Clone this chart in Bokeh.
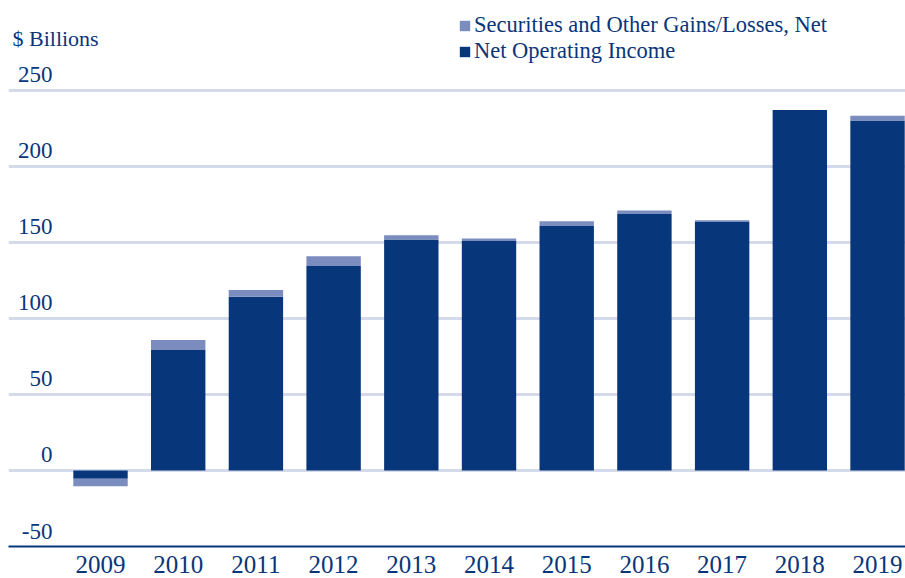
from bokeh.plotting import figure
from bokeh.models import (Range1d, FixedTicker, Label, LabelSet, ColumnDataSource,
                          Legend, LegendItem)
from bokeh.embed import file_html
from bokeh.resources import INLINE

# Annual values, $ billions
years = [2009, 2010, 2011, 2012, 2013, 2014, 2015, 2016, 2017, 2018, 2019]
net_operating_income = [-5.5, 79.3, 114.3, 134.6, 152.0, 151.0, 160.9, 168.7, 163.5, 237.2, 230.2]
securities_gains = [-4.8, 6.6, 4.4, 6.3, 2.8, 1.6, 3.0, 2.3, 1.1, 0.0, 3.2]
y_ticks = [-50, 0, 50, 100, 150, 200, 250]

DARK = "#08367A"
LIGHT = "#7B8CBF"
GRID = "#D5DAEB"
FONT = "Liberation Serif"

idx = list(range(len(years)))
noi_src = ColumnDataSource(dict(
    x=idx,
    bottom=[0.0] * len(years),
    top=net_operating_income,
))
sec_src = ColumnDataSource(dict(
    x=idx,
    bottom=net_operating_income,
    top=[n + s for n, s in zip(net_operating_income, securities_gains)],
))

p = figure(width=905, height=578, output_backend="svg", toolbar_location=None,
           x_range=Range1d(-1.184, 10.36), y_range=Range1d(-50, 309.2),
           min_border_left=8, min_border_right=0, min_border_top=0, min_border_bottom=32)
p.outline_line_color = None
p.background_fill_color = "white"

r_noi = p.vbar(x="x", bottom="bottom", top="top", width=0.7, source=noi_src,
               fill_color=DARK, line_color=None)
r_sec = p.vbar(x="x", bottom="bottom", top="top", width=0.7, source=sec_src,
               fill_color=LIGHT, line_color=None)

# horizontal grid
p.xgrid.visible = False
p.ygrid.ticker = FixedTicker(ticks=[t for t in y_ticks if t > -50])
p.ygrid.grid_line_color = GRID
p.ygrid.grid_line_width = 3
p.ygrid.level = "underlay"
p.yaxis.visible = False

# year axis along the bottom
p.xaxis.ticker = FixedTicker(ticks=idx)
p.xaxis.major_label_overrides = {i: str(y) for i, y in zip(idx, years)}
p.xaxis.major_tick_line_color = None
p.xaxis.minor_tick_line_color = None
p.xaxis.axis_line_color = DARK
p.xaxis.axis_line_width = 2
p.xaxis.major_label_text_font = FONT
p.xaxis.major_label_text_font_size = "25px"
p.xaxis.major_label_text_color = DARK
p.xaxis.major_label_standoff = 3

# value labels sitting on top of each grid line
lab_src = ColumnDataSource(dict(y=y_ticks, text=[str(t) for t in y_ticks]))
p.add_layout(LabelSet(x=44, y="y", text="text", source=lab_src, x_units="screen",
                      text_align="right", text_baseline="bottom", y_offset=8,
                      text_font=FONT, text_font_size="23px", text_color=DARK))

p.add_layout(Label(x=4, y=496, x_units="screen", y_units="screen", text="$ Billions",
                   text_font=FONT, text_font_size="22px", text_color=DARK,
                   text_baseline="bottom"))

legend = Legend(items=[
    LegendItem(label="Securities and Other Gains/Losses, Net", renderers=[r_sec]),
    LegendItem(label="Net Operating Income", renderers=[r_noi]),
], location=(450, 482))
legend.label_text_font = FONT
legend.label_text_font_size = "22.5px"
legend.label_text_color = DARK
legend.label_height = 26
legend.glyph_width = 13
legend.glyph_height = 13
legend.label_standoff = 3
legend.spacing = 0
legend.padding = 0
legend.margin = 0
legend.border_line_color = None
legend.background_fill_alpha = 0
p.add_layout(legend, "center")

open("out.html", "w").write(file_html(p, INLINE))
